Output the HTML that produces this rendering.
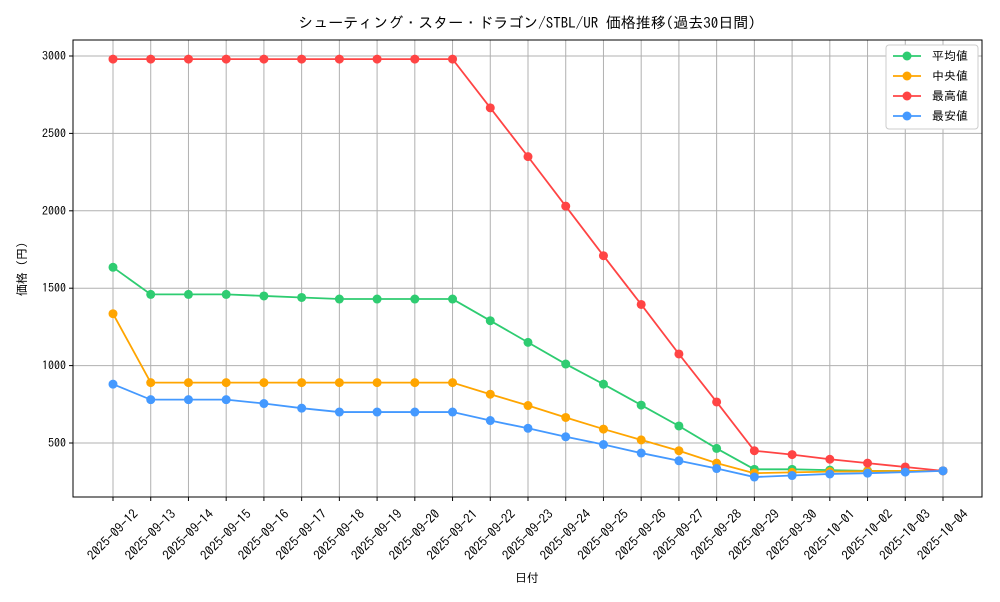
<!DOCTYPE html>
<html><head><meta charset="utf-8"><style>
body{margin:0;background:#fff;font-family:"IPAGothic","Noto Sans CJK JP",sans-serif}
</style></head><body>
<svg id="c" width="1000" height="600" xmlns="http://www.w3.org/2000/svg" font-family="IPAGothic,'Noto Sans CJK JP',sans-serif"></svg>
<script>
const dates=["2025-09-12","2025-09-13","2025-09-14","2025-09-15","2025-09-16","2025-09-17","2025-09-18","2025-09-19","2025-09-20","2025-09-21","2025-09-22","2025-09-23","2025-09-24","2025-09-25","2025-09-26","2025-09-27","2025-09-28","2025-09-29","2025-09-30","2025-10-01","2025-10-02","2025-10-03","2025-10-04"];
const avgVals=[1635,1460,1460,1460,1450,1440,1430,1430,1430,1430,1290,1150,1010,880,745,610,465,330,330,325,320,320,320];
const medVals=[1335,890,890,890,890,890,890,890,890,890,815,742,665,590,520,450,370,305,310,315,318,320,320];
const maxVals=[2980,2980,2980,2980,2980,2980,2980,2980,2980,2980,2665,2350,2030,1710,1395,1075,765,450,425,395,370,345,320];
const minVals=[880,780,780,780,755,725,700,700,700,700,645,595,540,490,435,385,335,280,290,300,305,312,320];
const yTicks=[500,1000,1500,2000,2500,3000];
const seriesNames=["平均値","中央値","最高値","最安値"];
const NS="http://www.w3.org/2000/svg",svg=document.getElementById('c');
function mk(t,a,p){const e=document.createElementNS(NS,t);for(const k in a)e.setAttribute(k,a[k]);(p||svg).appendChild(e);return e;}
const L=73,R=982,T=40,B=497;
const xs=i=>113+i*(943-113)/(dates.length-1);
const ys=v=>443-(v-500)*(387/2500);
dates.forEach((d,i)=>{const g=mk('line',{x1:xs(i),x2:xs(i),y1:T,y2:B,stroke:'#b0b0b0','stroke-width':1});

const tk=mk('line',{x1:xs(i),x2:xs(i),y1:B,y2:B+4,stroke:'#000'});
const cy=535;
const t=mk('text',{x:xs(i),y:cy+4,'font-size':13,'text-anchor':'middle',transform:`rotate(-45 ${xs(i)} ${cy})`});t.textContent=d;
});
yTicks.forEach(v=>{const g=mk('line',{x1:L,x2:R,y1:ys(v),y2:ys(v),stroke:'#b0b0b0','stroke-width':1});

const tk=mk('line',{x1:L-4,x2:L,y1:ys(v),y2:ys(v),stroke:'#000'});
const t=mk('text',{x:L-7,y:ys(v)+4,'font-size':12,'text-anchor':'end'});t.textContent=v;
});
const fr=mk('rect',{x:L,y:T,width:R-L,height:B-T,fill:'none',stroke:'#000','stroke-width':1});

const series=[[avgVals,'#2ecc71'],[medVals,'#ffa500'],[maxVals,'#ff4444'],[minVals,'#4499ff']];
series.forEach(([vals,col],si)=>{const g=mk('g',{});
const pl=mk('polyline',{points:vals.map((v,i)=>xs(i)+','+ys(v)).join(' '),fill:'none',stroke:col,'stroke-width':1.8},g);

vals.forEach((v,i)=>{const c=mk('circle',{cx:xs(i),cy:ys(v),r:4.5,fill:col},g);});});
const lg=mk('g',{});
mk('rect',{x:886,y:45,width:92,height:84,rx:3,fill:'#fff',stroke:'#ccc'},lg);
series.forEach(([v,col],i)=>{const y=56+i*20;const e=mk('g',{},lg);
mk('line',{x1:893,x2:921,y1:y,y2:y,stroke:col,'stroke-width':1.8},e);mk('circle',{cx:907,cy:y,r:4.5,fill:col},e);
const t=mk('text',{x:932,y:y+4,'font-size':12},e);t.textContent=seriesNames[i];});
const tt=mk('text',{x:527,y:28,'font-size':15,'text-anchor':'middle'});tt.textContent='シューティング・スター・ドラゴン/STBL/UR 価格推移(過去30日間)';

const xl=mk('text',{x:527,y:582,'font-size':12,'text-anchor':'middle'});xl.textContent='日付';

const yl=mk('text',{x:26,y:269,'font-size':12,'text-anchor':'middle',transform:'rotate(-90 26 269)'});yl.textContent='価格 (円)';

</script></body></html>
